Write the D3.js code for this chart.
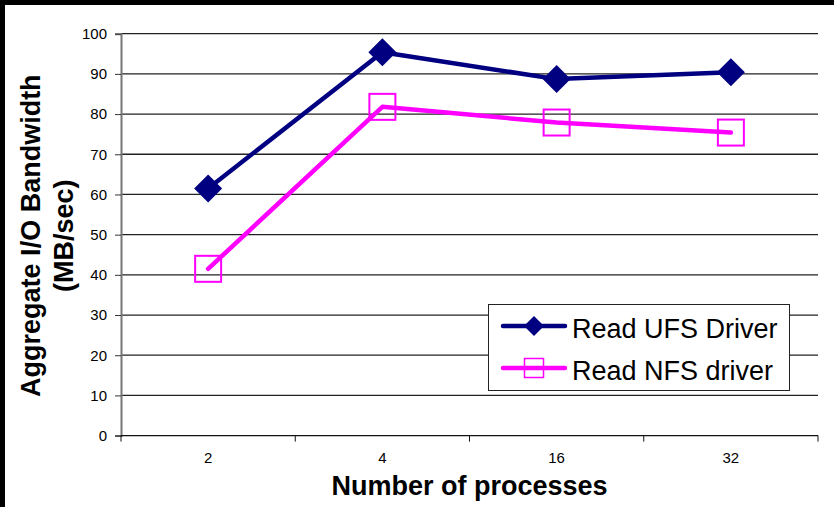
<!DOCTYPE html>
<html>
<head>
<meta charset="utf-8">
<script src="https://cdn.jsdelivr.net/npm/d3@7"></script>
<style>
  html, body { margin: 0; padding: 0; background: #fff; }
  svg { display: block; font-family: "Liberation Sans", Arial, sans-serif; }
</style>
</head>
<body>
<svg id="chart" width="834" height="507"></svg>
<script>
// Aggregate read bandwidth by number of processes
const categories = ["2", "4", "16", "32"];
const ufsValues = [61.5, 95.4, 88.7, 90.4];
const nfsValues = [41.5, 81.8, 77.9, 75.4];
const yTicks = [0, 10, 20, 30, 40, 50, 60, 70, 80, 90, 100];
const seriesNames = ["Read UFS Driver", "Read NFS driver"];

const svg = d3.select("#chart");
const W = 834, H = 507;

// frame: black strip along the top and left edges
svg.append("rect").attr("x", 0).attr("y", 0).attr("width", W).attr("height", H).attr("fill", "#000");
svg.append("rect").attr("x", 5).attr("y", 5).attr("width", W - 5).attr("height", H - 5).attr("fill", "#fff");

const plot = { left: 121, right: 818, top: 33.7, bottom: 435.6 };

const x = d3.scaleBand().domain(categories).range([plot.left, plot.right]).padding(0);
const y = d3.scaleLinear().domain([0, 100]).range([plot.bottom, plot.top]);

// horizontal gridlines
svg.append("g")
  .selectAll("line")
  .data(yTicks.filter(d => d > 0))
  .join("line")
  .attr("x1", plot.left).attr("x2", plot.right)
  .attr("y1", d => y(d)).attr("y2", d => y(d))
  .attr("stroke", "#222").attr("stroke-width", 1.3);

// y axis
const yAxis = svg.append("g")
  .attr("transform", `translate(${plot.left},0)`)
  .call(d3.axisLeft(y).tickValues(yTicks).tickSize(6).tickPadding(8));
yAxis.select(".domain").attr("stroke", "#777").attr("stroke-width", 2);
yAxis.selectAll(".tick line").attr("stroke", "#333");
yAxis.selectAll(".tick text")
  .attr("font-size", 15).attr("fill", "#000")
  .attr("font-family", "'Liberation Sans', Arial, sans-serif");

// x axis: ticks sit on category boundaries
const xAxis = svg.append("g")
  .attr("transform", `translate(0,${plot.bottom})`)
  .call(d3.axisBottom(x).tickSize(0).tickPadding(17));
xAxis.select(".domain").remove();
xAxis.append("line")
  .attr("x1", plot.left).attr("x2", plot.right)
  .attr("y1", 0).attr("y2", 0)
  .attr("stroke", "#111").attr("stroke-width", 1.3);
const boundaries = categories.map(c => x(c)).concat([x(categories[categories.length - 1]) + x.bandwidth()]);
xAxis.selectAll(".bound")
  .data(boundaries)
  .join("line")
  .attr("class", "bound")
  .attr("x1", d => d).attr("x2", d => d)
  .attr("y1", 0).attr("y2", 6)
  .attr("stroke", "#111").attr("stroke-width", 1);
xAxis.selectAll(".tick text")
  .attr("font-size", 15).attr("fill", "#000")
  .attr("font-family", "'Liberation Sans', Arial, sans-serif");

const cx = c => x(c) + x.bandwidth() / 2;

const line = d3.line()
  .x((d, i) => cx(categories[i]))
  .y(d => y(d));

// NFS series (magenta, open squares)
svg.append("path")
  .datum(nfsValues)
  .attr("d", line)
  .attr("fill", "none")
  .attr("stroke", "#ff00ff")
  .attr("stroke-width", 4.5)
  .attr("stroke-linejoin", "round")
  .attr("stroke-linecap", "round");
svg.append("g")
  .selectAll("rect")
  .data(nfsValues)
  .join("rect")
  .attr("x", (d, i) => cx(categories[i]) - 13)
  .attr("y", d => y(d) - 13)
  .attr("width", 26).attr("height", 26)
  .attr("fill", "none")
  .attr("stroke", "#ff00ff")
  .attr("stroke-width", 2);

// UFS series (navy, filled diamonds)
svg.append("path")
  .datum(ufsValues)
  .attr("d", line)
  .attr("fill", "none")
  .attr("stroke", "#000080")
  .attr("stroke-width", 4.5)
  .attr("stroke-linejoin", "round")
  .attr("stroke-linecap", "round");
const diamond = r => `M0,${-r}L${r},0L0,${r}L${-r},0Z`;
svg.append("g")
  .selectAll("path")
  .data(ufsValues)
  .join("path")
  .attr("transform", (d, i) => `translate(${cx(categories[i])},${y(d)})`)
  .attr("d", diamond(14))
  .attr("fill", "#000080");

// axis titles
svg.append("text")
  .attr("x", (plot.left + plot.right) / 2)
  .attr("y", 495)
  .attr("text-anchor", "middle")
  .attr("font-size", 27)
  .attr("font-weight", "bold")
  .text("Number of processes");

const yMid = (plot.top + plot.bottom) / 2 + 1;
const yTitle = svg.append("text")
  .attr("transform", `translate(0,${yMid}) rotate(-90)`)
  .attr("text-anchor", "middle")
  .attr("font-size", 27)
  .attr("font-weight", "bold");
yTitle.append("tspan").attr("x", 0).attr("y", 40).text("Aggregate I/O Bandwidth");
yTitle.append("tspan").attr("x", 0).attr("y", 73).text("(MB/sec)");

// legend
const legend = svg.append("g");
legend.append("rect")
  .attr("x", 488.5).attr("y", 304.5)
  .attr("width", 301).attr("height", 86)
  .attr("fill", "#fff")
  .attr("stroke", "#222")
  .attr("stroke-width", 1);
const legendRows = [
  { name: seriesNames[0], color: "#000080", y: 326, marker: "diamond" },
  { name: seriesNames[1], color: "#ff00ff", y: 368, marker: "square" }
];
legendRows.forEach(r => {
  legend.append("line")
    .attr("x1", 503).attr("x2", 565)
    .attr("y1", r.y).attr("y2", r.y)
    .attr("stroke", r.color).attr("stroke-width", 4.5)
    .attr("stroke-linecap", "round");
  if (r.marker === "diamond") {
    legend.append("path")
      .attr("transform", `translate(534,${r.y})`)
      .attr("d", diamond(10))
      .attr("fill", r.color);
  } else {
    legend.append("rect")
      .attr("x", 534 - 9.5).attr("y", r.y - 9.5)
      .attr("width", 19).attr("height", 19)
      .attr("fill", "none")
      .attr("stroke", r.color).attr("stroke-width", 1.5);
  }
  legend.append("text")
    .attr("x", 572).attr("y", r.y + 12)
    .attr("font-size", 27)
    .attr("fill", "#000")
    .text(r.name);
});
</script>
</body>
</html>
